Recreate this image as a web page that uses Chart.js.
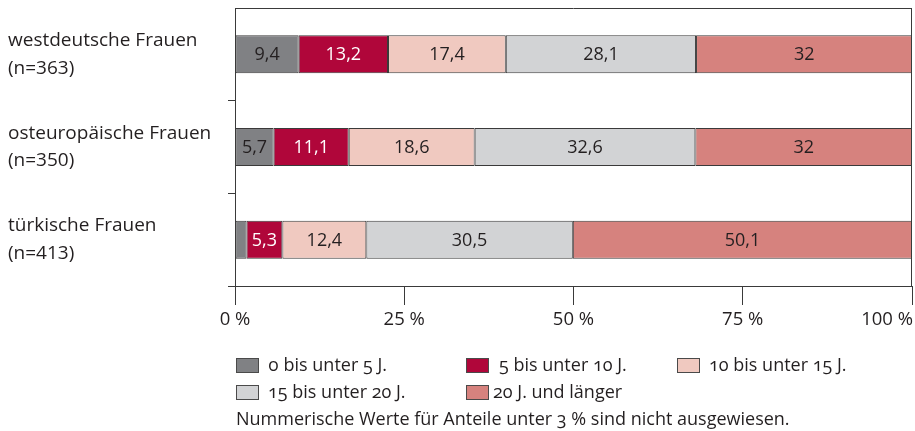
<!DOCTYPE html>
<html>
<head>
<meta charset="utf-8">
<script src="https://cdn.jsdelivr.net/npm/chart.js@4/dist/chart.umd.min.js"></script>
<style>
  html, body { margin: 0; padding: 0; background: #fff; overflow: hidden; }
  #wrap { position: relative; width: 915px; height: 431px; }
  canvas { position: absolute; left: 0; top: 0; }
  .lg { position: absolute; font-family: "Open Sans", sans-serif; font-size: 18px; color: #231f20; white-space: nowrap; line-height: 22px; font-variant-numeric: oldstyle-nums; }
  .bx { position: absolute; width: 21px; height: 13px; border: 1px solid #4a4a4a; }
</style>
</head>
<body>
<div id="wrap">
  <canvas id="c" width="915" height="431"></canvas>
  <div id="legend"></div>
</div>
<script>
// ---- data ----
const categories = [
  ['westdeutsche Frauen', '(n=363)'],
  ['osteuropäische Frauen', '(n=350)'],
  ['türkische Frauen', '(n=413)']
];
const seriesNames = ['0 bis unter 5 J.', '5 bis unter 10 J.', '10 bis unter 15 J.', '15 bis unter 20 J.', '20 J. und länger'];
const legendTexts = ['o bis unter 5 J.', '5 bis unter 10 J.', '10 bis unter 15 J.', '15 bis unter 20 J.', '20 J. und länger'];
const s0to5 = [9.4, 5.7, 1.7];
const s5to10 = [13.2, 11.1, 5.3];
const s10to15 = [17.4, 18.6, 12.4];
const s15to20 = [28.1, 32.6, 30.5];
const s20plus = [32, 32, 50.1];
const xTickValues = [0, 25, 50, 75, 100];
const noteText = 'Nummerische Werte für Anteile unter 3 % sind nicht ausgewiesen.';

const seriesValues = [s0to5, s5to10, s10to15, s15to20, s20plus];
const colors = ['#808184', '#b0063a', '#f0c9c0', '#d2d3d5', '#d6827e'];
const labelColors = ['#231f20', '#ffffff', '#231f20', '#231f20', '#231f20'];
const FONT = '"Open Sans", sans-serif';

const barLabels = {
  id: 'barLabels',
  afterDatasetsDraw(chart) {
    const ctx = chart.ctx;
    ctx.save();
    ctx.font = '18px ' + FONT;
    ctx.textAlign = 'center';
    ctx.textBaseline = 'middle';
    chart.data.datasets.forEach((ds, i) => {
      const meta = chart.getDatasetMeta(i);
      meta.data.forEach((bar, j) => {
        const v = ds.data[j];
        if (v < 3) return;
        ctx.fillStyle = labelColors[i];
        ctx.fillText(String(v).replace('.', ','), (bar.x + bar.base) / 2, bar.y + 1);
      });
    });
    ctx.restore();
  }
};

const frameAndTicks = {
  id: 'frameAndTicks',
  afterDraw(chart) {
    const ctx = chart.ctx;
    const a = chart.chartArea;
    ctx.save();
    ctx.strokeStyle = '#3a3a3a';
    ctx.lineWidth = 1;
    ctx.beginPath();
    ctx.moveTo(a.left, Math.round(a.top) + 0.5);
    ctx.lineTo(a.right, Math.round(a.top) + 0.5);
    ctx.moveTo(Math.round(a.right) - 0.5, a.top);
    ctx.lineTo(Math.round(a.right) - 0.5, a.bottom);
    ctx.stroke();
    const xs = chart.scales.x;
    ctx.font = '18.5px ' + FONT;
    ctx.fillStyle = '#231f20';
    ctx.textBaseline = 'middle';
    xTickValues.forEach((v, i) => {
      const px = xs.getPixelForValue(v);
      const last = i === xTickValues.length - 1;
      ctx.textAlign = last ? 'right' : 'center';
      ctx.fillText(v + ' %', last ? px + 1 : px, xs.bottom + 15);
    });
    ctx.restore();
  }
};

new Chart(document.getElementById('c'), {
  type: 'bar',
  data: {
    labels: categories,
    datasets: seriesNames.map((n, i) => ({
      label: n,
      data: seriesValues[i],
      backgroundColor: colors[i],
      borderColor: '#3a3a3a',
      borderWidth: 1,
      borderSkipped: false,
      barPercentage: 0.41,
      categoryPercentage: 1
    }))
  },
  options: {
    indexAxis: 'y',
    responsive: false,
    animation: false,
    devicePixelRatio: 1,
    layout: { padding: { left: 8, top: 8, right: 3, bottom: 126 } },
    plugins: { legend: { display: false }, tooltip: { enabled: false } },
    scales: {
      x: {
        stacked: true,
        min: 0, max: 100,
        ticks: { display: false, stepSize: 25 },
        grid: { drawOnChartArea: false, drawTicks: true, tickLength: 19, color: '#3a3a3a' },
        border: { display: true, color: '#3a3a3a' },
        afterFit(s) { s.height = 19; s.paddingLeft = 0; s.paddingRight = 0; }
      },
      y: {
        stacked: true,
        ticks: {
          crossAlign: 'far',
          color: '#231f20',
          font: { family: FONT, size: 19, lineHeight: 1.45 }
        },
        grid: {
          drawOnChartArea: false, drawTicks: true, tickLength: 7, offset: true,
          color: (c) => (c.index === 0 ? 'rgba(0,0,0,0)' : '#3a3a3a')
        },
        border: { display: true, color: '#3a3a3a' },
        afterFit(s) { s.width = 227; s.paddingTop = 0; s.paddingBottom = 0; }
      }
    }
  },
  plugins: [barLabels, frameAndTicks]
});

// ---- legend (HTML) ----
const lg = document.getElementById('legend');
const pos = [
  { bx: 236, tx: 268, cy: 365 },
  { bx: 466, tx: 499, cy: 365 },
  { bx: 677, tx: 709, cy: 365 },
  { bx: 236, tx: 268, cy: 392 },
  { bx: 466, tx: 493, cy: 392 }
];
legendTexts.forEach((t, i) => {
  const b = document.createElement('div');
  b.className = 'bx';
  b.style.left = pos[i].bx + 'px';
  b.style.top = (pos[i].cy - 7) + 'px';
  b.style.background = colors[i];
  lg.appendChild(b);
  const s = document.createElement('div');
  s.className = 'lg';
  s.textContent = t;
  s.style.left = pos[i].tx + 'px';
  s.style.top = (pos[i].cy - 12) + 'px';
  lg.appendChild(s);
});
const note = document.createElement('div');
note.className = 'lg';
note.textContent = noteText;
note.style.left = '236px';
note.style.top = '407px';
lg.appendChild(note);
</script>
</body>
</html>
